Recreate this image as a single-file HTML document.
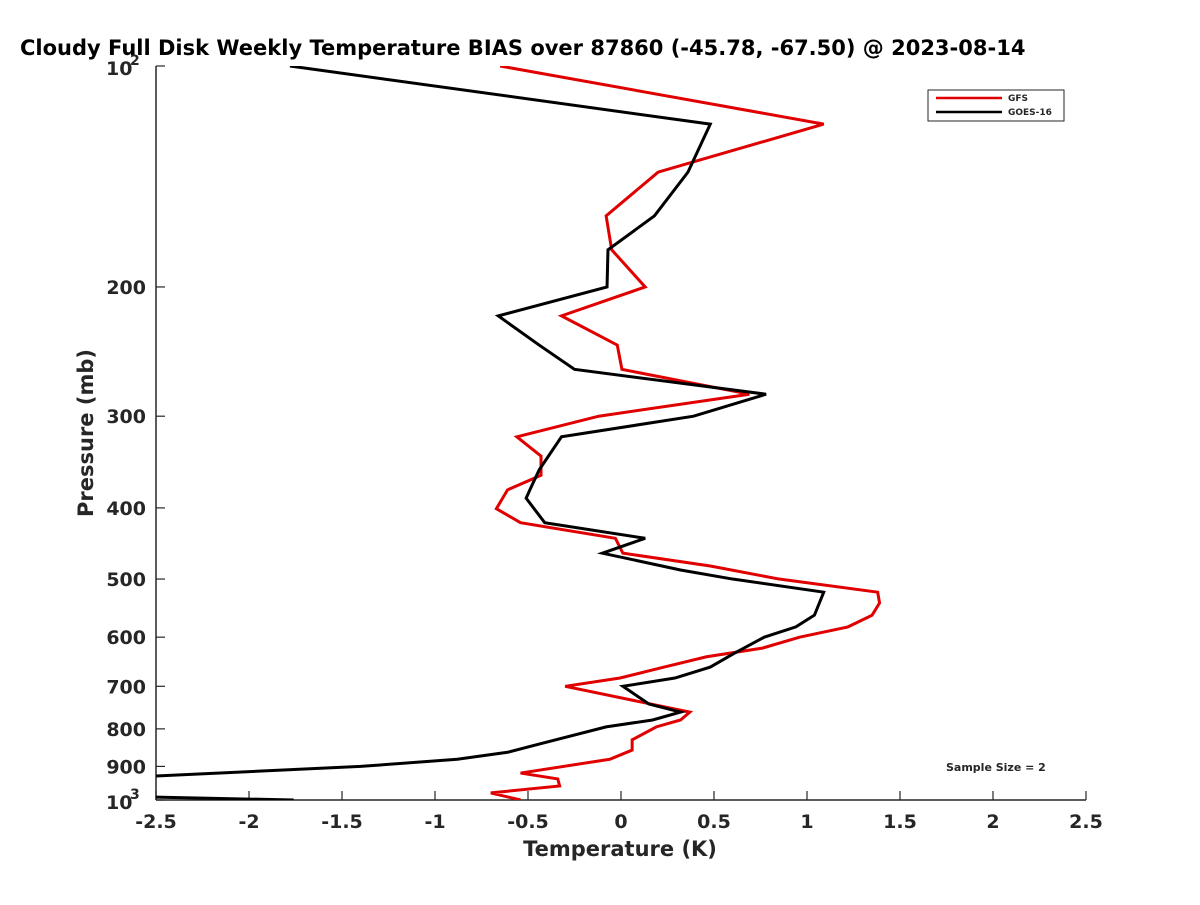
<!DOCTYPE html>
<html><head><meta charset="utf-8"><style>
body{margin:0;background:#fff}
svg text{font-family:"DejaVu Sans","Liberation Sans",sans-serif;font-weight:bold;fill:#262626}
</style></head><body>
<svg id="c" width="1200" height="900">
<defs><clipPath id="clip"><rect x="156" y="66" width="930" height="734"/></clipPath></defs>
<text x="20" y="55" font-size="21" style="fill:#000">Cloudy Full Disk Weekly Temperature BIAS over 87860 (-45.78, -67.50) @ 2023-08-14</text>
<g id="axes"></g>
<g id="series" clip-path="url(#clip)"></g>
<g>
<rect x="928" y="90" width="136" height="31" fill="#fff" stroke="#262626" stroke-width="1"/>
<line x1="936" y1="98" x2="1002" y2="98" stroke="#e00000" stroke-width="2.5"/>
<text x="1008" y="101" font-size="9">GFS</text>
<line x1="936" y1="112" x2="1002" y2="112" stroke="#000" stroke-width="2.5"/>
<text x="1008" y="115" font-size="9">GOES-16</text>
</g>
<text x="946" y="771" font-size="11">Sample Size = 2</text>
<text x="620" y="856" font-size="21" text-anchor="middle">Temperature (K)</text>
<text transform="translate(93,433) rotate(-90)" font-size="21" text-anchor="middle">Pressure (mb)</text>
</svg>
<script>
const xTicks=[-2.5,-2,-1.5,-1,-0.5,0,0.5,1,1.5,2,2.5];
const xTickLabels=["-2.5","-2","-1.5","-1","-0.5","0","0.5","1","1.5","2","2.5"];
const yTicks=[200,300,400,500,600,700,800,900];
const gfsPressure=[100,120,139.5,160,178,200,219,240,259,280,300,320,340,361,378,401,419,440,461,480,500,521,539,560,581,600,621,638,661,682,700,759,778,795,828,855,880,919,936,957,978,1000];
const gfsBias=[-0.65,1.09,0.20,-0.08,-0.05,0.13,-0.32,-0.02,0.005,0.69,-0.12,-0.56,-0.43,-0.43,-0.61,-0.67,-0.54,-0.03,0.01,0.48,0.85,1.38,1.39,1.35,1.22,0.96,0.76,0.46,0.21,-0.005,-0.30,0.37,0.32,0.19,0.06,0.06,-0.06,-0.54,-0.34,-0.33,-0.70,-0.54];
const goesPressure=[100,120,139.5,160,178,200,219,240,259,280,300,320,355,378,388,419,440,461,486,500,521,560,581,600,631,659,682,700,740,759,778,795,839,861,880,900,930,990,1000];
const goesBias=[-1.78,0.48,0.36,0.18,-0.07,-0.075,-0.66,-0.44,-0.25,0.78,0.39,-0.32,-0.44,-0.49,-0.51,-0.41,0.13,-0.10,0.32,0.60,1.09,1.04,0.94,0.77,0.61,0.48,0.29,0.01,0.15,0.32,0.17,-0.08,-0.44,-0.61,-0.88,-1.40,-2.6,-2.6,-1.76];
const NS="http://www.w3.org/2000/svg";
const X=v=>621+v*186;
const Y=p=>66+Math.log10(p/100)*734;
function mk(tag,attrs,parent){const e=document.createElementNS(NS,tag);for(const k in attrs)e.setAttribute(k,attrs[k]);parent.appendChild(e);return e;}
const ax=document.getElementById('axes');
let l=mk('line',{x1:156,y1:800,x2:1086,y2:800,stroke:'#262626','stroke-width':1.5},ax);


l=mk('line',{x1:156,y1:66,x2:156,y2:800,stroke:'#262626','stroke-width':1.5},ax);


xTicks.forEach((v,i)=>{
 const t=mk('line',{x1:X(v),y1:800,x2:X(v),y2:791,stroke:'#262626','stroke-width':1.2},ax);
 
 
 const s=mk('text',{x:X(v),y:828,'font-size':19,'text-anchor':'middle'},ax);
 s.textContent=xTickLabels[i];
 
 
});
[100,1000].concat(yTicks).forEach(p=>{
 const t=mk('line',{x1:156,y1:Y(p),x2:165,y2:Y(p),stroke:'#262626','stroke-width':1.2},ax);
 
 
});
yTicks.forEach(p=>{
 const s=mk('text',{x:146,y:Y(p)+7,'font-size':19,'text-anchor':'end'},ax);
 s.textContent=String(p);
 
 
});
[[100,'2'],[1000,'3']].forEach(([p,e])=>{
 const s=mk('text',{x:106,y:Y(p)+9,'font-size':19},ax);
 s.textContent='10';
 
 
 const sp=mk('text',{x:130,y:Y(p)-1,'font-size':14},ax);
 sp.textContent=e;
 
 
});
const sg=document.getElementById('series');
const pr=mk('polyline',{points:gfsBias.map((v,i)=>X(v)+','+Y(gfsPressure[i])).join(' '),fill:'none',stroke:'#e00000','stroke-width':3},sg);


const pb=mk('polyline',{points:goesBias.map((v,i)=>X(v)+','+Y(goesPressure[i])).join(' '),fill:'none',stroke:'#000','stroke-width':3},sg);


</script>
</body></html>
